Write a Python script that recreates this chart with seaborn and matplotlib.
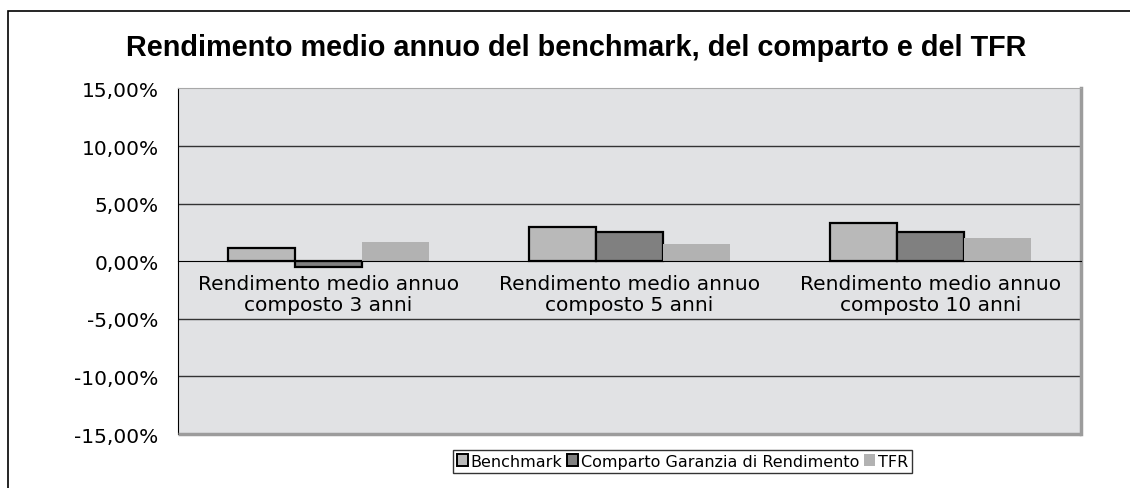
import matplotlib
matplotlib.use("Agg")
import matplotlib.pyplot as plt
from matplotlib.patches import Rectangle
from matplotlib.ticker import FixedLocator, FuncFormatter
import pandas as pd
import seaborn as sns

categories = ["Rendimento medio annuo\ncomposto 3 anni",
              "Rendimento medio annuo\ncomposto 5 anni",
              "Rendimento medio annuo\ncomposto 10 anni"]
series = ["Benchmark", "Comparto Garanzia di Rendimento", "TFR"]
benchmark = [1.15, 2.97, 3.29]
comparto = [-0.47, 2.56, 2.56]
tfr = [1.70, 1.50, 2.02]
y_ticks = [-15, -10, -5, 0, 5, 10, 15]

df = pd.DataFrame({
    "cat": categories * 3,
    "serie": [series[0]] * 3 + [series[1]] * 3 + [series[2]] * 3,
    "val": benchmark + comparto + tfr,
})

sns.set_style("white")
plt.rcParams["font.family"] = ["DejaVu Sans"]
plt.rcParams["text.color"] = "black"
plt.rcParams["xtick.color"] = "black"
plt.rcParams["ytick.color"] = "black"

fig = plt.figure(figsize=(11.3, 4.89), dpi=100)
ax = fig.add_axes([0.1575, 0.1104, 0.799, 0.7066])
ax.set_facecolor("#e1e2e4")

palette = {series[0]: "#b9b9b9", series[1]: "#808080", series[2]: "#b2b2b2"}
sns.barplot(data=df, x="cat", y="val", hue="serie", palette=palette,
            width=0.667, gap=0, saturation=1, ax=ax, legend=False,
            errorbar=None, zorder=3)

edges = ["black", "black", "none"]
for cont, ec in zip(ax.containers, edges):
    for p in cont:
        p.set_edgecolor(ec)
        p.set_linewidth(1.6)

ax.set_ylim(-15, 15)
ax.set_xlim(-0.5, 2.5)
ax.set_yticks(y_ticks)
ax.yaxis.set_major_formatter(FuncFormatter(lambda v, _: f"{v:.2f}%".replace(".", ",")))
ax.tick_params(axis="y", length=7, width=1, color="black", labelsize=14.5, pad=7,
               labelcolor="black")

# gridlines (skip the plot border values)
for v in y_ticks:
    if abs(v) not in (0, 15):
        ax.axhline(v, color="#333333", lw=1, zorder=1)

# x axis at zero with labels inside the plot
ax.spines["bottom"].set_position(("data", 0))
ax.spines["bottom"].set_color("black")
ax.spines["bottom"].set_zorder(4)
ax.tick_params(axis="x", which="major", length=0, labelsize=14.5, pad=9,
               labelcolor="black")
ax.xaxis.set_minor_locator(FixedLocator([-0.5, 0.5, 1.5, 2.5]))
ax.tick_params(axis="x", which="minor", length=5, width=1, color="black", direction="out")
for lbl in ax.get_xticklabels():
    lbl.set_linespacing(1.15)
ax.set_xlabel("")
ax.set_ylabel("")

ax.spines["left"].set_color("black")
ax.spines["top"].set_color("#a8a8a8")
ax.spines["right"].set_color("#9c9c9c")
ax.spines["right"].set_linewidth(2.5)
# bottom border of the plot area
ax.add_patch(Rectangle((0, 0), 1, 0.0, transform=ax.transAxes, fill=False,
                       edgecolor="#9c9c9c", lw=2.5, clip_on=False, zorder=5))

fig.suptitle("Rendimento medio annuo del benchmark, del comparto e del TFR",
             x=0.51, y=0.93, fontsize=20.8, fontweight="bold",
             family="Liberation Sans", color="black")

handles = [Rectangle((0, 0), 1, 1, facecolor=palette[s], edgecolor=ec, lw=1.4)
           for s, ec in zip(series, edges)]
fig.legend(handles, series, loc="center", bbox_to_anchor=(0.604, 0.055), ncol=3,
           fontsize=11.5, frameon=True, fancybox=False, edgecolor="black",
           handlelength=0.7, handleheight=0.7, handletextpad=0.15,
           columnspacing=0.3, borderpad=0.25, borderaxespad=0)

# outer chart border
fig.patches.append(Rectangle((8 / 1130, -0.2), 1.2, 1.2 - 12 / 489,
                             transform=fig.transFigure, fill=False,
                             edgecolor="black", lw=1.2, figure=fig))

fig.savefig("out.png", dpi=100)
